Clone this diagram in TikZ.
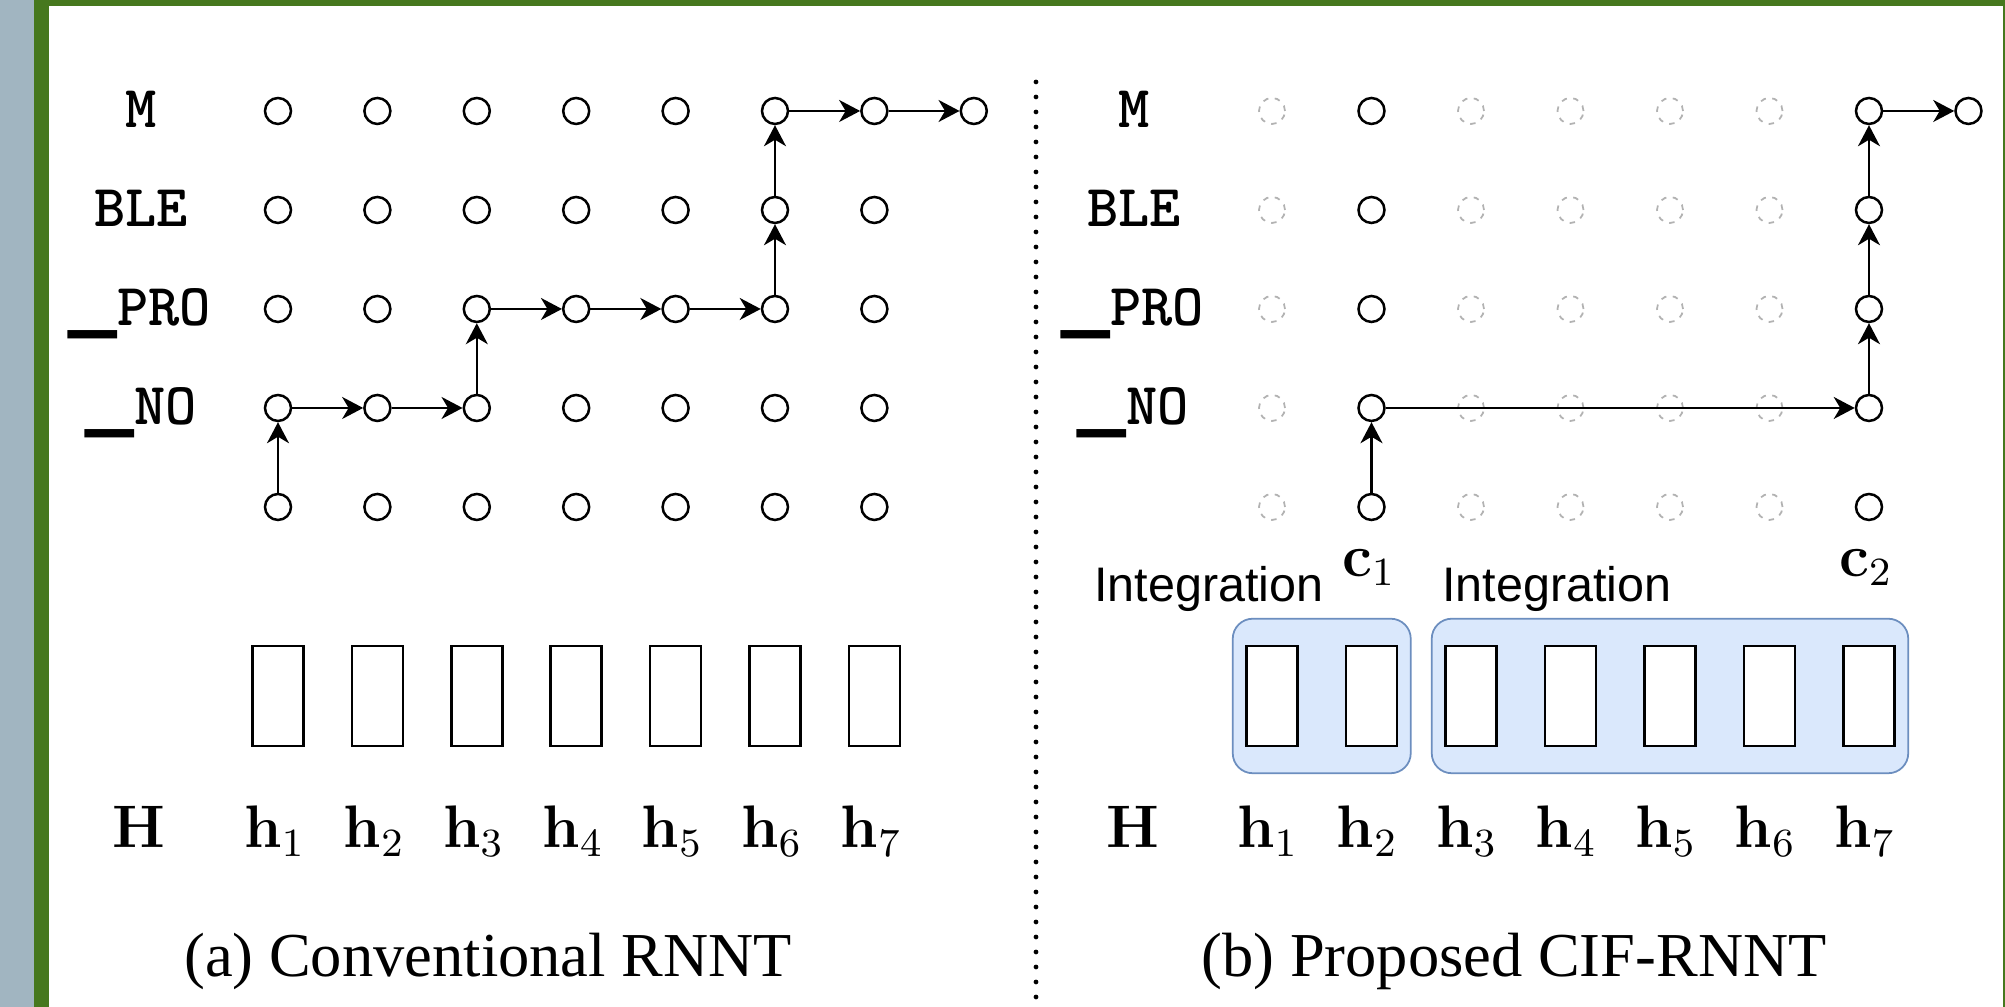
\documentclass[tikz,border=0pt]{standalone}
\usepackage[no-math]{fontspec}
\setmainfont{Liberation Serif}
\newfontfamily\labelsans{Liberation Sans}
\newfontfamily\rowtt[Extension=.otf]{lmmonolt10-bold}
\newfontfamily\blockfont{DejaVu Sans}
\newcommand{\wordstart}{{\blockfont\scalebox{1.06}[0.9]{\symbol{"2581}}}}
\usetikzlibrary{arrows.meta,fit,backgrounds}
\definecolor{sidegray}{RGB}{161,181,193}
\definecolor{framegreen}{RGB}{70,120,30}
\definecolor{boxfill}{HTML}{DAE8FC}
\definecolor{boxline}{HTML}{6C8EBF}
\definecolor{ghostgray}{RGB}{178,178,178}
\begin{document}
\begin{tikzpicture}[x=0.2pt,y=-0.2pt,
  dot/.style={circle,draw=black,line width=0.5pt,fill=white,minimum size=5.2pt,inner sep=0pt},
  ghost/.style={circle,draw=ghostgray,line width=0.35pt,dash pattern=on 1.1pt off 1.3pt,fill=white,minimum size=5.2pt,inner sep=0pt},
  flow/.style={line width=0.45pt,-{Stealth[length=4.2pt,width=4.4pt,inset=1.3pt]}},
  rowlab/.style={font=\rowtt\fontsize{11.9}{13}\selectfont,anchor=base,inner sep=0pt},
  hlab/.style={font=\fontsize{12}{14}\selectfont,anchor=base,inner sep=0pt},
  cell/.style={draw=black,line width=0.5pt,fill=white,minimum width=10.2pt,minimum height=20pt,inner sep=0pt},
  grp/.style={draw=boxline,fill=boxfill,line width=0.35pt,rounded corners=4pt,inner xsep=2.5pt,inner ysep=5.2pt},
  capt/.style={font=\fontsize{12.5}{15}\selectfont,anchor=base,inner sep=0pt},
  integ/.style={font=\labelsans\fontsize{9.7}{11}\selectfont,anchor=base,inner sep=0pt},
  sep/.style={line width=0.95pt,line cap=round,dash pattern=on 0pt off 3pt},
]
% page frame
\begin{scope}[on background layer]
  \fill[white] (0,0) rectangle (2005,1007);
  \fill[sidegray] (0,0) rectangle (34,1007);
  \fill[framegreen] (34,0) rectangle (49,1007);
  \fill[framegreen] (34,0) rectangle (2005,6.5);
  \fill[framegreen] (2003,0) rectangle (2005,1007);
\end{scope}
\useasboundingbox (0,0) rectangle (2005,1007);

% ---------- (a) conventional RNNT lattice ----------
\foreach \c in {1,...,7}
  \foreach \r in {1,...,5}
    \node[dot] (L\c-\r) at ({278+99.4*(\c-1)},{111+99*(\r-1)}) {};
\node[dot] (L8-1) at (973.8,111) {};

\node[rowlab] (la1) at (141,128) {M};
\node[rowlab] (la2) at (141,227) {BLE};
\node[rowlab] (la3) at (140,326) {\wordstart PRO};
\node[rowlab] (la4) at (141,425) {\wordstart NO};

\draw[flow] (L1-5) -- (L1-4);
\draw[flow] (L1-4) -- (L2-4);
\draw[flow] (L2-4) -- (L3-4);
\draw[flow] (L3-4) -- (L3-3);
\draw[flow] (L3-3) -- (L4-3);
\draw[flow] (L4-3) -- (L5-3);
\draw[flow] (L5-3) -- (L6-3);
\draw[flow] (L6-3) -- (L6-2);
\draw[flow] (L6-2) -- (L6-1);
\draw[flow] (L6-1) -- (L7-1);
\draw[flow] (L7-1) -- (L8-1);

\foreach \c in {1,...,7}
  \node[cell] (LH\c) at ({278+99.4*(\c-1)},696) {};

\node[hlab] (LHname) at (139,848) {$\mathbf{H}$};
\foreach \c in {1,...,7}
  \node[hlab] (Lh\c) at ({275+99.4*(\c-1)},848) {$\mathbf{h}_{\c}$};

\node[capt] (capA) at (488,977) {(a) Conventional RNNT};

% separator
\coordinate (sepTop) at (1036,82);
\coordinate (sepBot) at (1036,1007);
\draw[sep] (sepTop) -- (sepBot);

% ---------- (b) proposed CIF-RNNT lattice ----------
\foreach \c/\s in {1/ghost,2/dot,3/ghost,4/ghost,5/ghost,6/ghost,7/dot}
  \foreach \r in {1,...,5}
    \node[\s] (R\c-\r) at ({1272+99.5*(\c-1)},{111+99*(\r-1)}) {};
\node[dot] (R8-1) at (1968.5,111) {};

\node[rowlab] (lb1) at (1134,128) {M};
\node[rowlab] (lb2) at (1134,227) {BLE};
\node[rowlab] (lb3) at (1133,326) {\wordstart PRO};
\node[rowlab] (lb4) at (1133,425) {\wordstart NO};

\draw[flow] (R2-5) -- (R2-4);
\draw[flow] (R2-4) -- (R7-4);
\draw[flow] (R7-4) -- (R7-3);
\draw[flow] (R7-3) -- (R7-2);
\draw[flow] (R7-2) -- (R7-1);
\draw[flow] (R7-1) -- (R8-1);

\foreach \c in {1,...,7}
  \node[cell] (RH\c) at ({1272+99.5*(\c-1)},696) {};

\begin{scope}[on background layer]
  \node[grp,fit=(RH1) (RH2)] (grpA) {};
  \node[grp,fit=(RH3) (RH7)] (grpB) {};
\end{scope}

\node[integ] (intA) at (1209,602) {Integration};
\node[integ] (intB) at (1557,602) {Integration};
\node[hlab] (cA) at (1369,577) {$\mathbf{c}_1$};
\node[hlab] (cB) at (1866,577) {$\mathbf{c}_2$};

\node[hlab] (RHname) at (1133,848) {$\mathbf{H}$};
\foreach \c in {1,...,7}
  \node[hlab] (Rh\c) at ({1268+99.5*(\c-1)},848) {$\mathbf{h}_{\c}$};

\node[capt] (capB) at (1514,977) {(b) Proposed CIF-RNNT};
\end{tikzpicture}
\end{document}
